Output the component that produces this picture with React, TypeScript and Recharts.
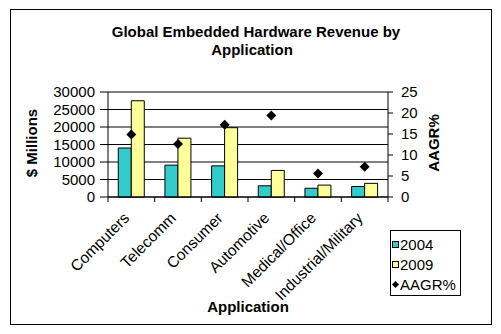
import React from 'react';
import {
  Bar, CartesianGrid, ComposedChart, Legend, Scatter, XAxis, YAxis,
} from 'recharts';

const categories = ['Computers', 'Telecomm', 'Consumer', 'Automotive', 'Medical/Office', 'Industrial/Military'];
const revenue2004 = [14000, 9100, 8900, 3200, 2500, 3000];
const revenue2009 = [27500, 16800, 19800, 7600, 3400, 3900];
const aagr = [14.9, 12.6, 17.2, 19.4, 5.6, 7.2];
const revenueTicks = [0, 5000, 10000, 15000, 20000, 25000, 30000];
const aagrTicks = [0, 5, 10, 15, 20, 25];

const FONT = "Arial, 'Liberation Sans', sans-serif";
const TEAL = '#33CCCC';
const YELLOW = '#FFFF99';
const PLOT_LEFT = 108;
const PLOT_RIGHT = 388;

interface Row {
  name: string;
  y2004: number;
  y2009: number;
  aagr: number;
}

const data: Row[] = categories.map((name, i) => ({
  name,
  y2004: revenue2004[i],
  y2009: revenue2009[i],
  aagr: aagr[i],
}));

function CategoryTick(props: any): JSX.Element {
  const { x, y, payload, index } = props;
  const band = (PLOT_RIGHT - PLOT_LEFT) / categories.length;
  const tx = x - 1;
  const ty = y + 22;
  return (
    <g>
      <line x1={x - band / 2} y1={y} x2={x - band / 2} y2={y + 5} stroke='#000'/>
      {index === categories.length - 1 && (
        <line x1={x + band / 2} y1={y} x2={x + band / 2} y2={y + 5} stroke='#000'/>
      )}
      <text x={tx} y={ty} textAnchor='end' fontSize={15.5} fontFamily={FONT} fill='#000'
        transform={`rotate(-45, ${tx}, ${ty})`}>
        {payload.value}
      </text>
    </g>
  );
}

function Diamond(props: any): JSX.Element {
  const { cx, cy } = props;
  const r = 5;
  return <polygon points={`${cx},${cy - r} ${cx + r},${cy} ${cx},${cy + r} ${cx - r},${cy}`} fill='#000'/>;
}

function LegendBox(): JSX.Element {
  const items = [
    { label: '2004', color: TEAL, kind: 'square' },
    { label: '2009', color: YELLOW, kind: 'square' },
    { label: 'AAGR%', color: '#000', kind: 'diamond' },
  ];
  return (
    <div style={{
      border: '1px solid #000', width: 71, height: 66, boxSizing: 'border-box',
      padding: '3px 0 0 1px', fontFamily: FONT, fontSize: 15, background: '#fff',
    }}>
      {items.map((it) => (
        <div key={it.label} style={{ height: 20, display: 'flex', alignItems: 'center' }}>
          <svg width={7} height={8} style={{ marginRight: 1 }}>
            {it.kind === 'square'
              ? <rect x={0.5} y={1.5} width={6} height={6} fill={it.color} stroke='#000'/>
              : <polygon points='3.5,1 7,4.5 3.5,8 0,4.5' fill='#000'/>}
          </svg>
          <span>{it.label}</span>
        </div>
      ))}
    </div>
  );
}

export default function App(): JSX.Element {
  return (
    <div style={{ position: 'absolute', left: 0, top: 0, width: 501, height: 334, background: '#fff' }}>
      <div style={{
        position: 'absolute', left: 10, top: 9, width: 480, height: 314, border: '1px solid #000',
      }}/>
      <ComposedChart
        width={501}
        height={334}
        data={data}
        margin={{
          top: 92, right: 60, bottom: 80, left: 60,
        }}
        barCategoryGap='22%'
        barGap={0}
      >
        <CartesianGrid vertical={false} stroke='#000' yAxisId='left'/>
        <XAxis dataKey='name' height={57} tickSize={0} tickMargin={0} interval={0}
          axisLine={{ stroke: '#000' }} tick={<CategoryTick/>}/>
        <YAxis yAxisId='left' width={48} domain={[0, 30000]} ticks={revenueTicks} interval={0}
          tickSize={8} tickMargin={5} axisLine={{ stroke: '#000' }} tickLine={{ stroke: '#000' }}
          tick={{ fill: '#000', fontSize: 15, fontFamily: FONT }}/>
        <YAxis yAxisId='right' orientation='right' width={53} domain={[0, 25]} ticks={aagrTicks}
          interval={0} tickSize={5} tickMargin={8} axisLine={{ stroke: '#000' }}
          tickLine={{ stroke: '#000' }} tick={{ fill: '#000', fontSize: 15, fontFamily: FONT }}/>
        <Bar yAxisId='left' dataKey='y2004' name='2004' fill={TEAL} stroke='#000' isAnimationActive={false}/>
        <Bar yAxisId='left' dataKey='y2009' name='2009' fill={YELLOW} stroke='#000' isAnimationActive={false}/>
        <Scatter yAxisId='right' dataKey='aagr' name='AAGR%' fill='#000' shape={<Diamond/>}
          isAnimationActive={false}/>
        <Legend layout='vertical' align='center' verticalAlign='middle' content={<LegendBox/>}
          wrapperStyle={{ position: 'absolute', left: 390, top: 230, width: 71 }}/>
        <text x={256} y={37} textAnchor='middle' fontSize={15} fontWeight='bold' fontFamily={FONT}>
          Global Embedded Hardware Revenue by
        </text>
        <text x={252} y={55} textAnchor='middle' fontSize={15} fontWeight='bold' fontFamily={FONT}>
          Application
        </text>
        <text x={37} y={143} textAnchor='middle' fontSize={15} fontWeight='bold' fontFamily={FONT}
          transform='rotate(-90, 37, 143)'>
          $ Millions
        </text>
        <text x={439} y={143} textAnchor='middle' fontSize={15} fontWeight='bold' fontFamily={FONT}
          transform='rotate(-90, 439, 143)'>
          AAGR%
        </text>
        <text x={248} y={312} textAnchor='middle' fontSize={15} fontWeight='bold' fontFamily={FONT}>
          Application
        </text>
      </ComposedChart>
    </div>
  );
}
